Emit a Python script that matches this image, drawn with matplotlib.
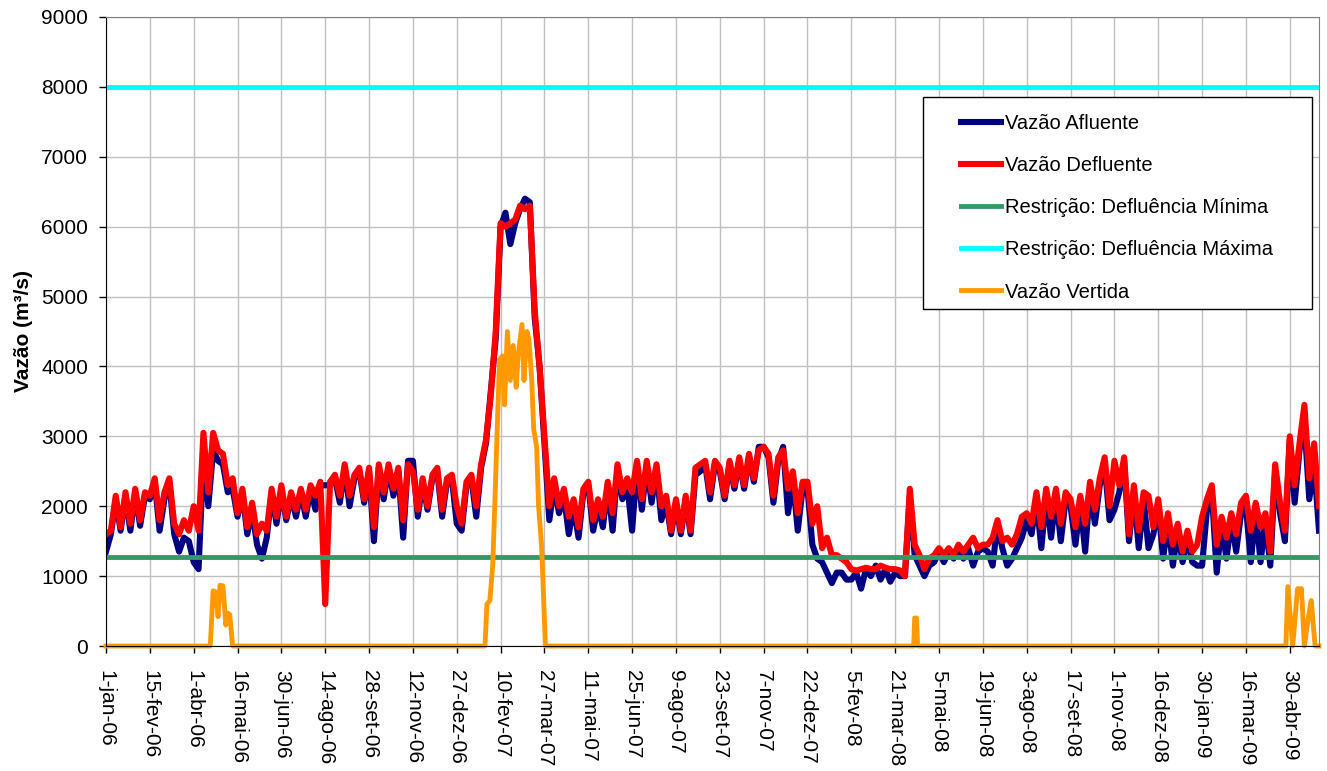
import numpy as np
import pandas as pd
import matplotlib
matplotlib.use("Agg")
import matplotlib.pyplot as plt
from matplotlib.patches import Rectangle

plt.rcParams['font.family'] = ['Liberation Sans', 'DejaVu Sans']

# amostras a cada 5 dias, de 1-jan-06 ate 30-mai-09
start = pd.Timestamp('2006-01-01')
dates = pd.date_range(start, periods=250, freq='5D')

vazao_defluente = [
    1600, 1650, 2150, 1700, 2200, 1750, 2250, 1800, 2200,
    2150, 2400, 1800, 2200, 2400, 1750, 1600, 1800, 1650,
    2000, 1650, 3050, 2200, 3050, 2800, 2750, 2300, 2400,
    1900, 2250, 1700, 2050, 1600, 1750, 1650, 2250, 1850,
    2300, 1850, 2200, 1950, 2250, 1950, 2300, 2150, 2350,
    600, 2350, 2450, 2150, 2600, 2150, 2450, 2550, 2100,
    2550, 1700, 2600, 2200, 2600, 2250, 2550, 1800, 2600,
    2500, 1950, 2400, 2000, 2450, 2550, 1950, 2400, 2450,
    2000, 1750, 2350, 2450, 2000, 2600, 2950, 3600, 4500,
    6050, 6000, 6050, 6100, 6300, 6250, 6300, 4800, 4000,
    3000, 2000, 2400, 2000, 2250, 1850, 2100, 1700, 2250,
    2350, 1800, 2100, 1850, 2350, 1900, 2600, 2200, 2400,
    2200, 2650, 2100, 2650, 2200, 2600, 2000, 2150, 1650,
    2100, 1650, 2150, 1650, 2550, 2600, 2650, 2200, 2650,
    2550, 2150, 2650, 2300, 2700, 2300, 2750, 2400, 2800,
    2850, 2750, 2150, 2700, 2800, 2250, 2500, 1900, 2350,
    2350, 1750, 2000, 1400, 1550, 1300, 1300, 1250, 1200,
    1100, 1080, 1100, 1120, 1100, 1100, 1150, 1120, 1100,
    1100, 1080, 1000, 2250, 1450, 1300, 1100, 1250, 1300,
    1400, 1300, 1400, 1300, 1450, 1350, 1450, 1550, 1400,
    1450, 1450, 1550, 1800, 1500, 1550, 1450, 1600, 1850,
    1900, 1750, 2200, 1700, 2250, 1850, 2250, 1750, 2200,
    2100, 1700, 2150, 1750, 2350, 1950, 2400, 2700, 2000,
    2650, 2300, 2700, 1600, 2300, 1650, 2200, 2150, 1700,
    2100, 1500, 1900, 1450, 1750, 1350, 1650, 1350, 1450,
    1850, 2100, 2300, 1450, 1850, 1550, 1900, 1600, 2050,
    2150, 1650, 2050, 1700, 1900, 1350, 2600, 2050, 1650,
    3000, 2300, 2900, 3450, 2400, 2900, 2000,
]

vazao_afluente = [
    1350, 1600, 2100, 1650, 2150, 1650, 2200, 1720, 2150,
    2100, 2350, 1650, 2100, 2350, 1600, 1350, 1550, 1500,
    1200, 1100, 2700, 2000, 2800, 2650, 2600, 2200, 2250,
    1850, 2200, 1600, 1950, 1450, 1250, 1550, 2200, 1750,
    2250, 1800, 2150, 1850, 2200, 1850, 2250, 1950, 2300,
    2300, 2300, 2400, 2050, 2550, 2000, 2400, 2500, 2050,
    2500, 1500, 2550, 2100, 2550, 2150, 2500, 1550, 2650,
    2650, 1850, 2350, 1950, 2400, 2500, 1850, 2350, 2400,
    1750, 1650, 2300, 2400, 1850, 2550, 2900, 3650, 4400,
    6000, 6200, 5750, 6050, 6250, 6400, 6350, 4700, 4000,
    2900, 1800, 2300, 1900, 2150, 1600, 2000, 1550, 2200,
    2300, 1650, 2000, 1700, 2300, 1650, 2550, 2100, 2300,
    1650, 2600, 1950, 2600, 2050, 2550, 1800, 2050, 1600,
    2050, 1600, 2100, 1600, 2450, 2500, 2600, 2100, 2600,
    2500, 2100, 2600, 2250, 2650, 2250, 2700, 2350, 2850,
    2850, 2700, 2050, 2650, 2850, 1900, 2400, 1650, 2250,
    2250, 1450, 1250, 1200, 1050, 900, 1050, 1050, 950,
    950, 1050, 820, 1100, 1000, 1150, 950, 1100, 920,
    1050, 1000, 1000, 2150, 1300, 1150, 1000, 1150, 1200,
    1350, 1200, 1350, 1250, 1400, 1250, 1400, 1150, 1350,
    1400, 1350, 1150, 1750, 1400, 1150, 1250, 1400, 1550,
    1800, 1600, 2100, 1400, 2150, 1550, 2150, 1500, 2100,
    2000, 1450, 2050, 1350, 2250, 1750, 2300, 2600, 1800,
    1950, 2200, 2650, 1500, 2200, 1400, 2100, 1400, 1600,
    2000, 1250, 1800, 1150, 1650, 1200, 1550, 1200, 1150,
    1150, 1950, 2200, 1050, 1750, 1250, 1800, 1350, 1900,
    2000, 1200, 1950, 1200, 1800, 1150, 2500, 1900, 1500,
    2950, 2050, 2800, 3200, 2100, 2600, 1650,
]

# vazao vertida: dias desde 1-jan-06 e valores
vertida_dias = [0, 107, 110, 113, 115, 117, 120, 123, 125, 127, 130,
                389, 391, 394, 397, 399, 402, 404, 407, 409, 412, 415, 418,
                421, 423, 427, 429, 432, 434, 437, 439, 442, 444, 447, 449, 451,
                829, 830, 832, 833,
                1211, 1213, 1218, 1223, 1227, 1230, 1234, 1237, 1241, 1245]
vertida_vals = [0, 0, 790, 770, 420, 870, 860, 300, 470, 450, 0,
                0, 600, 650, 1170, 2000, 3300, 4100, 4150, 3450, 4500, 3800, 4300,
                3700, 4150, 4600, 3800, 4500, 4400, 3800, 3100, 2850, 2000, 1450, 750, 0,
                0, 400, 400, 0,
                0, 850, 0, 820, 820, 0, 400, 650, 0, 0]

defluencia_minima = 1280
defluencia_maxima = 8000

tick_labels = ['1-jan-06', '15-fev-06', '1-abr-06', '16-mai-06', '30-jun-06',
               '14-ago-06', '28-set-06', '12-nov-06', '27-dez-06', '10-fev-07',
               '27-mar-07', '11-mai-07', '25-jun-07', '9-ago-07', '23-set-07',
               '7-nov-07', '22-dez-07', '5-fev-08', '21-mar-08', '5-mai-08',
               '19-jun-08', '3-ago-08', '17-set-08', '1-nov-08', '16-dez-08',
               '30-jan-09', '16-mar-09', '30-abr-09']
tick_dates = pd.date_range(start, periods=len(tick_labels), freq='45D')

vert_dates = start + pd.to_timedelta(vertida_dias, unit='D')

fig = plt.figure(figsize=(13.27, 7.71), dpi=100)
ax = fig.add_axes([106 / 1327, 1 - 646 / 771, 1213 / 1327, 629 / 771])

lw = 4.4
ax.plot(dates, vazao_afluente, color='#000080', lw=lw, label='Vazão Afluente')
ax.plot(dates, vazao_defluente, color='#FF0000', lw=lw, label='Vazão Defluente')
ax.plot([dates[0], dates[-1]], [defluencia_minima] * 2, color='#339966', lw=3.5,
        label='Restrição: Defluência Mínima')
ax.plot([dates[0], dates[-1]], [defluencia_maxima] * 2, color='#00FFFF', lw=3.5,
        label='Restrição: Defluência Máxima')
ax.plot(vert_dates, vertida_vals, color='#FF9900', lw=3.5, label='Vazão Vertida',
        clip_on=False)

ax.set_xlim(dates[0], dates[-1])
ax.set_ylim(0, 9000)
ax.set_yticks(np.arange(0, 9001, 1000))
ax.set_xticks(tick_dates)
ax.set_xticklabels(tick_labels, rotation=-90, ha='center', va='top')
ax.tick_params(axis='both', labelsize=15, direction='out', length=5, width=1,
               colors='black')
ax.tick_params(axis='x', pad=12)
ax.tick_params(axis='y', pad=8)
ax.grid(True, color='#c0c0c0', lw=1)
ax.set_axisbelow(True)

for s in ['top', 'right']:
    ax.spines[s].set_color('#808080')
for s in ['left', 'bottom']:
    ax.spines[s].set_color('black')

ax.set_ylabel('Vazão (m³/s)', fontsize=15, fontweight='bold', labelpad=6)

# caixa da legenda desenhada a parte
ax.add_patch(Rectangle((0.6735, 0.5358), 0.3207, 0.337, transform=ax.transAxes,
                       facecolor='white', edgecolor='black', lw=1, zorder=4))
leg = ax.legend(loc='upper left', bbox_to_anchor=(0.7049, 0.846),
                fontsize=14.5, frameon=False, borderpad=0,
                handlelength=2.0, handletextpad=0.2, labelspacing=1.15,
                borderaxespad=0)
leg.set_zorder(5)

fig.savefig('out.png', dpi=100)
